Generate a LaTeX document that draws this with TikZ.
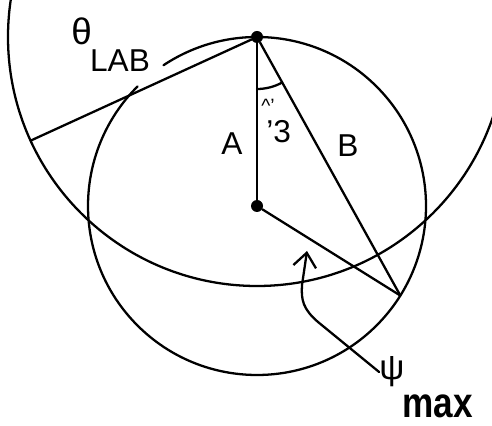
\documentclass[tikz,border=0pt]{standalone}
\usepackage{fontspec}
\setmainfont{Liberation Sans}
\usetikzlibrary{arrows.meta,calc}
\tikzset{
  wire/.style ={line width=1.3pt, line cap=round},
  pivot/.style={circle, fill=black, inner sep=0pt, minimum size=0.24cm},
  lbl/.style  ={inner sep=0pt, font=\fontsize{18}{20}\selectfont},
  biglbl/.style={inner sep=0pt, font=\fontsize{20}{22}\selectfont},
  ptr/.style  ={wire, -{Straight Barb[length=8pt,width=13pt]}},
}
\begin{document}
\begin{tikzpicture}[x=0.02cm,y=0.02cm]
  \useasboundingbox (0,0) rectangle (492,425);
  \clip (0,0) rectangle (492,425);
  %% pivots and end points
  \node[pivot] (P) at (257,388) {};
  \node[pivot] (C) at (257,219) {};
  \coordinate (Q) at ($(C)+(-32:169)$);
  \coordinate (L) at ($(P)+(204.6:249)$);
  %% circles
  \draw[wire] (P) circle[radius=249];
  \draw[wire] ($(C)+(135:169)$) arc[start angle=135, end angle=483.6, radius=169];
  %% arms
  \draw[wire] (P) -- (C);
  \draw[wire] (P) -- (Q);
  \draw[wire] (C) -- (Q);
  \draw[wire] (P) -- (L);
  \draw[wire] ($(P)+(-90:52)$) arc[start angle=-90, end angle=-61, radius=52];
  %% labels
  \node[lbl, anchor=base west] (theta) at (71,380) {{\fontsize{21}{22}\selectfont θ}\kern-1pt\raisebox{-15pt}{LAB}};
  \node[lbl] (A) at (232,281) {A};
  \node[lbl] (B) at (348,279) {B};
  \node[lbl, anchor=base west] (ang) at (266,282) {’3};
  \node[lbl, font=\fontsize{11}{12}\selectfont] (angtop) at (268,319) {\textasciicircum’};
  \node[biglbl] (psi) at (392,53) {ψ};
  \node[biglbl, font=\fontsize{20}{22}\selectfont\bfseries, anchor=base west] (max) at (402,8) {\scalebox{1}[1.2]{max}};
  %% pointer
  \coordinate (tip) at (307,174);
  \draw[ptr] (psi.west) -- (318,103) .. controls (303,116) and (301,125) .. (302,140) -- (tip);
\end{tikzpicture}
\end{document}
